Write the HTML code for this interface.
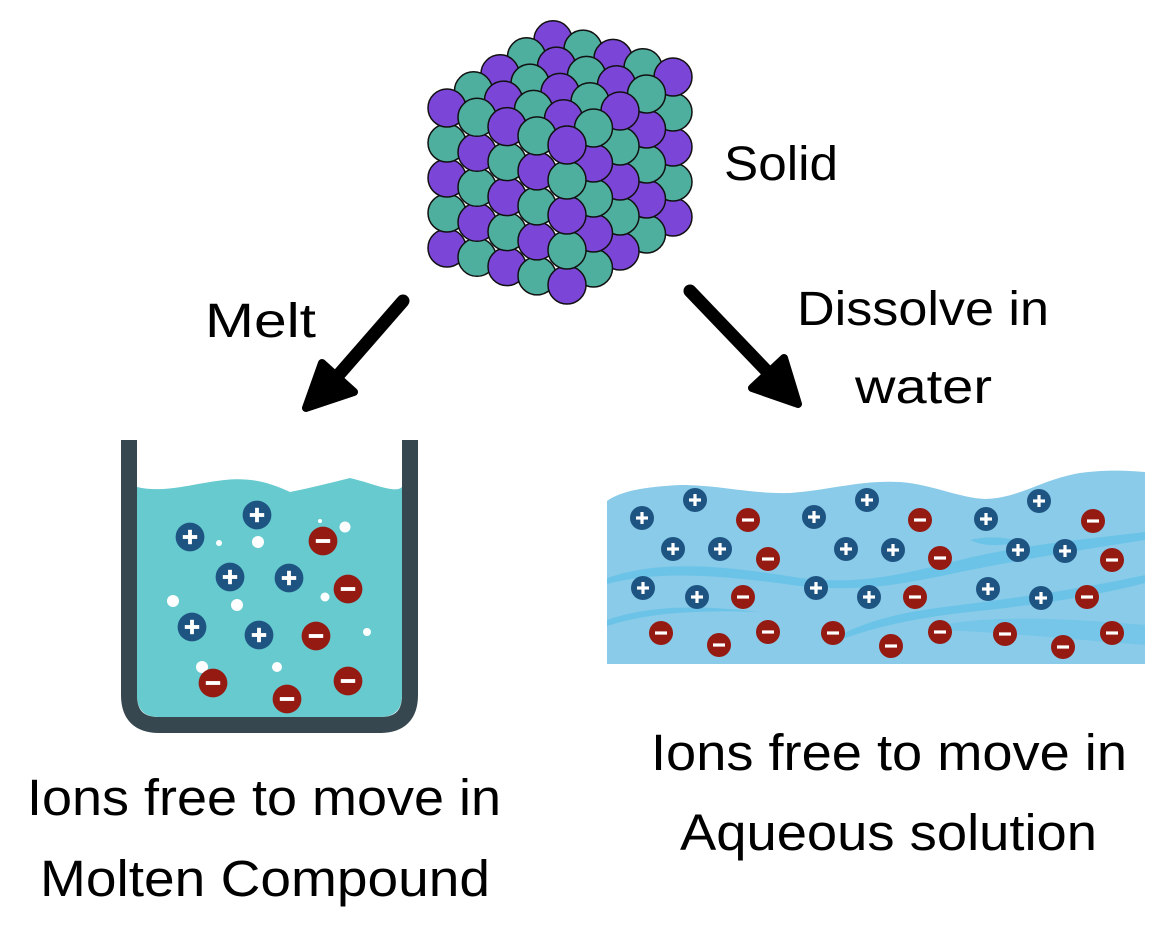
<!DOCTYPE html>
<html><head><meta charset="utf-8"><style>html,body{margin:0;padding:0;background:#fff}svg{display:block}</style></head>
<body>
<svg width="1169" height="925" viewBox="0 0 1169 925" xmlns="http://www.w3.org/2000/svg" font-family="'Liberation Sans', sans-serif">
<defs>
<g id="p"><circle r="12" fill="#1e5482"/><rect x="-6" y="-1.6" width="12" height="3.2" fill="#fff"/><rect x="-1.6" y="-6" width="3.2" height="12" fill="#fff"/></g>
<g id="m"><circle r="12" fill="#951a12"/><rect x="-6" y="-1.6" width="12" height="3.2" fill="#fff"/></g>
</defs>
<!-- crystal -->
<g stroke="#111" stroke-width="1.5">
<circle cx="553" cy="39.8" r="19" fill="#7b46d8"/>
<circle cx="526.5" cy="56.8" r="19" fill="#4faf9f"/><circle cx="583" cy="49.1" r="19" fill="#4faf9f"/>
<circle cx="500" cy="73.8" r="19" fill="#7b46d8"/><circle cx="556.5" cy="66.1" r="19" fill="#7b46d8"/><circle cx="613" cy="58.4" r="19" fill="#7b46d8"/>
<circle cx="473.5" cy="90.8" r="19" fill="#4faf9f"/><circle cx="530" cy="83.1" r="19" fill="#4faf9f"/><circle cx="586.5" cy="75.4" r="19" fill="#4faf9f"/><circle cx="643" cy="67.7" r="19" fill="#4faf9f"/>
<circle cx="503.5" cy="100.1" r="19" fill="#7b46d8"/><circle cx="560" cy="92.4" r="19" fill="#7b46d8"/><circle cx="616.5" cy="84.7" r="19" fill="#7b46d8"/>
<circle cx="533.5" cy="109.4" r="19" fill="#4faf9f"/><circle cx="590" cy="101.7" r="19" fill="#4faf9f"/>
<circle cx="563.5" cy="118.7" r="19" fill="#7b46d8"/>
<!-- right face (bottom to top) -->
<circle cx="673" cy="217" r="19" fill="#7b46d8"/><circle cx="673" cy="182" r="19" fill="#4faf9f"/><circle cx="673" cy="147" r="19" fill="#7b46d8"/><circle cx="673" cy="112" r="19" fill="#4faf9f"/><circle cx="673" cy="77" r="19" fill="#7b46d8"/>
<circle cx="646.5" cy="234" r="19" fill="#4faf9f"/><circle cx="646.5" cy="199" r="19" fill="#7b46d8"/><circle cx="646.5" cy="164" r="19" fill="#4faf9f"/><circle cx="646.5" cy="129" r="19" fill="#7b46d8"/><circle cx="646.5" cy="94" r="19" fill="#4faf9f"/>
<circle cx="620" cy="251" r="19" fill="#7b46d8"/><circle cx="620" cy="216" r="19" fill="#4faf9f"/><circle cx="620" cy="181" r="19" fill="#7b46d8"/><circle cx="620" cy="146" r="19" fill="#4faf9f"/><circle cx="620" cy="111" r="19" fill="#7b46d8"/>
<circle cx="593.5" cy="268" r="19" fill="#4faf9f"/><circle cx="593.5" cy="233" r="19" fill="#7b46d8"/><circle cx="593.5" cy="198" r="19" fill="#4faf9f"/><circle cx="593.5" cy="163" r="19" fill="#7b46d8"/><circle cx="593.5" cy="128" r="19" fill="#4faf9f"/>
<!-- left face (bottom to top) -->
<circle cx="447" cy="248" r="19" fill="#7b46d8"/><circle cx="447" cy="213" r="19" fill="#4faf9f"/><circle cx="447" cy="178" r="19" fill="#7b46d8"/><circle cx="447" cy="143" r="19" fill="#4faf9f"/><circle cx="447" cy="108" r="19" fill="#7b46d8"/>
<circle cx="477" cy="257.3" r="19" fill="#4faf9f"/><circle cx="477" cy="222.3" r="19" fill="#7b46d8"/><circle cx="477" cy="187.3" r="19" fill="#4faf9f"/><circle cx="477" cy="152.3" r="19" fill="#7b46d8"/><circle cx="477" cy="117.3" r="19" fill="#4faf9f"/>
<circle cx="507" cy="266.6" r="19" fill="#7b46d8"/><circle cx="507" cy="231.6" r="19" fill="#4faf9f"/><circle cx="507" cy="196.6" r="19" fill="#7b46d8"/><circle cx="507" cy="161.6" r="19" fill="#4faf9f"/><circle cx="507" cy="126.6" r="19" fill="#7b46d8"/>
<circle cx="537" cy="275.9" r="19" fill="#4faf9f"/><circle cx="537" cy="240.9" r="19" fill="#7b46d8"/><circle cx="537" cy="205.9" r="19" fill="#4faf9f"/><circle cx="537" cy="170.9" r="19" fill="#7b46d8"/><circle cx="537" cy="135.9" r="19" fill="#4faf9f"/>
<!-- front column (bottom to top) -->
<circle cx="567" cy="285" r="19" fill="#7b46d8"/><circle cx="567" cy="250" r="19" fill="#4faf9f"/><circle cx="567" cy="215" r="19" fill="#7b46d8"/><circle cx="567" cy="180" r="19" fill="#4faf9f"/><circle cx="567" cy="145" r="19" fill="#7b46d8"/>
</g>
<!-- arrows -->
<g fill="#000" stroke="#000" stroke-linejoin="round" stroke-linecap="round">
<line x1="403" y1="301" x2="328" y2="387" stroke-width="13"/>
<path d="M322,363 L306,408 L354,392 Z" stroke-width="8"/>
<line x1="690" y1="291" x2="783" y2="388" stroke-width="13"/>
<path d="M784,358 L798,404 L752,388 Z" stroke-width="8"/>
</g>
<!-- beaker -->
<path d="M137,487 C160,493 190,485 210,482 C240,477 260,478 290,492 C310,488 330,483 350,478 C375,484 395,494 402,487 L402,695 Q402,717 380,717 L159,717 Q137,717 137,695 Z" fill="#66cacf"/>
<path d="M129,440 V695 Q129,725 159,725 H380 Q410,725 410,695 V440" fill="none" stroke="#37474f" stroke-width="16"/>
<g fill="#fff">
<circle cx="219" cy="543" r="3"/><circle cx="258" cy="542" r="6"/><circle cx="320" cy="521" r="2"/><circle cx="345" cy="527" r="5.5"/><circle cx="173" cy="601" r="6"/><circle cx="237" cy="605" r="6"/><circle cx="325" cy="597" r="4.5"/><circle cx="367" cy="632" r="4"/><circle cx="202" cy="667" r="6"/><circle cx="277" cy="667" r="5"/>
</g>
<g>
<use href="#p" transform="translate(190,537) scale(1.2)"/><use href="#p" transform="translate(257,515) scale(1.2)"/><use href="#p" transform="translate(230,577) scale(1.2)"/><use href="#p" transform="translate(289,578) scale(1.2)"/><use href="#p" transform="translate(192,627) scale(1.2)"/><use href="#p" transform="translate(259,635) scale(1.2)"/>
<use href="#m" transform="translate(323,541) scale(1.2)"/><use href="#m" transform="translate(348,589) scale(1.2)"/><use href="#m" transform="translate(316,636) scale(1.2)"/><use href="#m" transform="translate(213,683) scale(1.2)"/><use href="#m" transform="translate(287,699) scale(1.2)"/><use href="#m" transform="translate(348,681) scale(1.2)"/>
</g>
<!-- water -->
<path d="M607,501 C620,492 640,487 680,485 C720,485 750,494 790,493 C830,490 860,480 900,482 C930,484 960,498 985,499 C1020,498 1040,480 1080,473 C1110,469 1130,471 1145,472 L1145,664 L607,664 Z" fill="#89cbe8"/>
<g fill="#6cc3e8">
<path d="M607,578 C660,560 720,565 800,578 C860,585 900,575 960,560 C1020,545 1080,540 1145,532 L1145,540 C1080,550 1020,560 960,572 C900,585 860,592 800,586 C720,575 660,570 607,584 Z"/>
<path d="M607,620 C650,605 700,605 760,612 C700,610 650,612 607,626 Z"/>
<path d="M840,635 C880,615 920,610 960,605 C1040,595 1100,585 1145,575 L1145,583 C1100,595 1040,605 960,613 C920,618 880,625 840,640 Z"/>
<path d="M940,625 C1000,615 1060,618 1145,625 L1145,645 C1080,640 1000,632 940,630 Z" opacity="0.7"/>
<path d="M970,540 C990,535 1010,538 1020,542 C1000,546 985,547 970,540 Z"/>
</g>
<g>
<use href="#p" x="642" y="518"/><use href="#p" x="695" y="500"/><use href="#p" x="673" y="549"/><use href="#p" x="720" y="549"/><use href="#p" x="643" y="588"/><use href="#p" x="697" y="597"/>
<use href="#p" x="814" y="517"/><use href="#p" x="867" y="500"/><use href="#p" x="846" y="549"/><use href="#p" x="893" y="550"/><use href="#p" x="816" y="588"/><use href="#p" x="869" y="597"/>
<use href="#p" x="986" y="519"/><use href="#p" x="1039" y="501"/><use href="#p" x="1018" y="550"/><use href="#p" x="1065" y="551"/><use href="#p" x="988" y="589"/><use href="#p" x="1041" y="598"/>
<use href="#m" x="748" y="520"/><use href="#m" x="768" y="559"/><use href="#m" x="743" y="597"/><use href="#m" x="661" y="633"/><use href="#m" x="719" y="645"/><use href="#m" x="768" y="632"/><use href="#m" x="833" y="633"/><use href="#m" x="891" y="646"/>
<use href="#m" x="920" y="520"/><use href="#m" x="940" y="558"/><use href="#m" x="915" y="597"/><use href="#m" x="1093" y="521"/><use href="#m" x="1112" y="560"/><use href="#m" x="1087" y="597"/><use href="#m" x="940" y="632"/><use href="#m" x="1005" y="634"/><use href="#m" x="1063" y="647"/><use href="#m" x="1112" y="633"/>
</g>
<!-- text -->
<g fill="#000" font-size="50">
<text x="724" y="180" textLength="114" lengthAdjust="spacingAndGlyphs" font-size="48">Solid</text>
<text x="205" y="337" textLength="111" lengthAdjust="spacingAndGlyphs" font-size="48">Melt</text>
<text x="797" y="325" textLength="252" lengthAdjust="spacingAndGlyphs" font-size="48">Dissolve in</text>
<text x="855" y="403" textLength="137" lengthAdjust="spacingAndGlyphs" font-size="48">water</text>
<text x="27" y="815" textLength="474" lengthAdjust="spacingAndGlyphs" font-size="51">Ions free to move in</text>
<text x="40" y="896" textLength="450" lengthAdjust="spacingAndGlyphs" font-size="51">Molten Compound</text>
<text x="651" y="770" textLength="476" lengthAdjust="spacingAndGlyphs" font-size="51">Ions free to move in</text>
<text x="680" y="850" textLength="417" lengthAdjust="spacingAndGlyphs" font-size="51">Aqueous solution</text>
</g>
</svg>
</body></html>
